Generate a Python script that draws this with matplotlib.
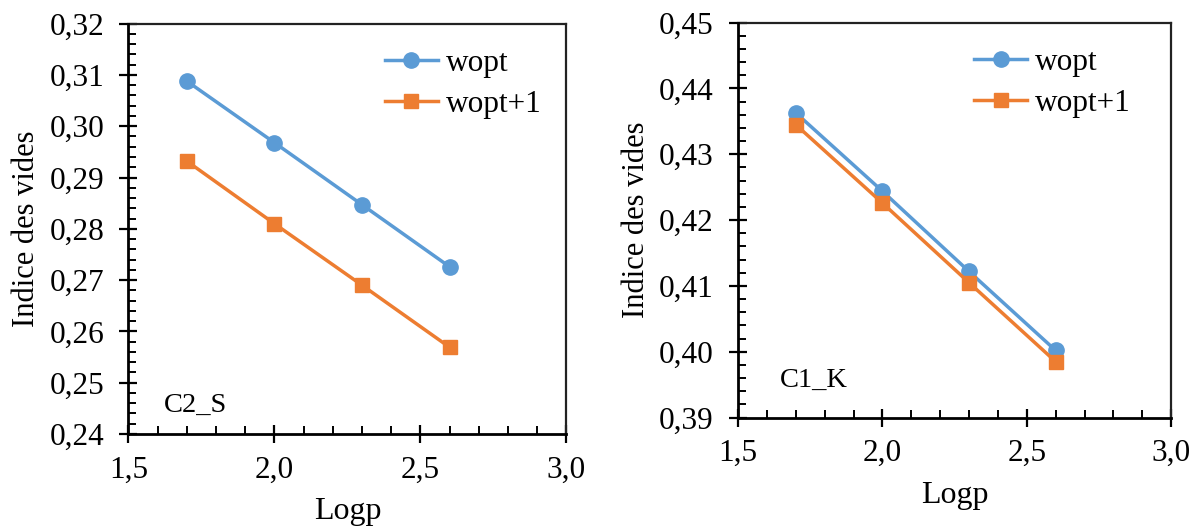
import matplotlib

matplotlib.use("Agg")
import matplotlib.pyplot as plt
from matplotlib.ticker import MultipleLocator, FuncFormatter

plt.rcParams["font.family"] = ["Liberation Serif", "DejaVu Serif"]

# data
logp = [1.7, 2.0, 2.3, 2.6]
c2s_wopt = [0.3088, 0.2968, 0.2847, 0.2726]
c2s_wopt1 = [0.2932, 0.2810, 0.2690, 0.2569]
c1k_wopt = [0.4363, 0.4244, 0.4122, 0.4002]
c1k_wopt1 = [0.4345, 0.4226, 0.4105, 0.3985]

series_labels = ["wopt", "wopt+1"]
panel_names = ["C2_S", "C1_K"]

BLUE = "#5B9BD5"
ORANGE = "#ED7D31"


def comma(fmt):
    return FuncFormatter(lambda v, _: format(v, fmt).replace(".", ","))


def panel(ax, y1, y2, *, ylim, ystep, name, name_xy, legend_x=1.0):
    ax.plot(logp, y1, color=BLUE, lw=2.5, marker="o", ms=11, label=series_labels[0])
    ax.plot(logp, y2, color=ORANGE, lw=2.5, marker="s", ms=10.5, label=series_labels[1])
    ax.set_xlim(1.5, 3.0)
    ax.set_ylim(*ylim)
    ax.xaxis.set_major_locator(MultipleLocator(0.5))
    ax.xaxis.set_minor_locator(MultipleLocator(0.1))
    ax.yaxis.set_major_locator(MultipleLocator(ystep))
    ax.yaxis.set_minor_locator(MultipleLocator(ystep / 5))
    ax.xaxis.set_major_formatter(comma(".1f"))
    ax.yaxis.set_major_formatter(comma(".2f"))
    ax.tick_params(which="major", direction="inout", length=13, width=1.6,
                   labelsize=22.5)
    ax.tick_params(axis="x", which="major", pad=9)
    ax.tick_params(axis="y", which="major", pad=11)
    ax.tick_params(which="minor", direction="in", length=6, width=1.4)
    ax.tick_params(top=False, right=False, which="both")
    for side in ("left", "bottom"):
        ax.spines[side].set_linewidth(2.0)
        ax.spines[side].set_zorder(5)
    for side in ("top", "right"):
        ax.spines[side].set_linewidth(1.6)
        ax.spines[side].set_color("#222222")
    ax.set_xlabel("Logp", fontsize=23, labelpad=9)
    ax.set_ylabel("Indice des vides", fontsize=22, labelpad=6)
    ax.text(*name_xy, name, fontsize=20.5, va="center")
    ax.legend(loc="upper right", bbox_to_anchor=(legend_x, 1.0), fontsize=22.5,
              frameon=False, handlelength=1.7, handletextpad=0.25,
              labelspacing=0.4, borderaxespad=0.4)


fig = plt.figure(figsize=(12, 5.26), dpi=100)
ax1 = fig.add_axes([0.107, 0.175, 0.365, 0.780])
ax2 = fig.add_axes([0.615, 0.206, 0.361, 0.751])

panel(ax1, c2s_wopt, c2s_wopt1, ylim=(0.24, 0.32), ystep=0.01,
      name=panel_names[0], name_xy=(1.62, 0.2455))
panel(ax2, c1k_wopt, c1k_wopt1, ylim=(0.39, 0.45), ystep=0.01,
      name=panel_names[1], name_xy=(1.645, 0.3957), legend_x=0.965)

fig.savefig("out.png", dpi=100)
